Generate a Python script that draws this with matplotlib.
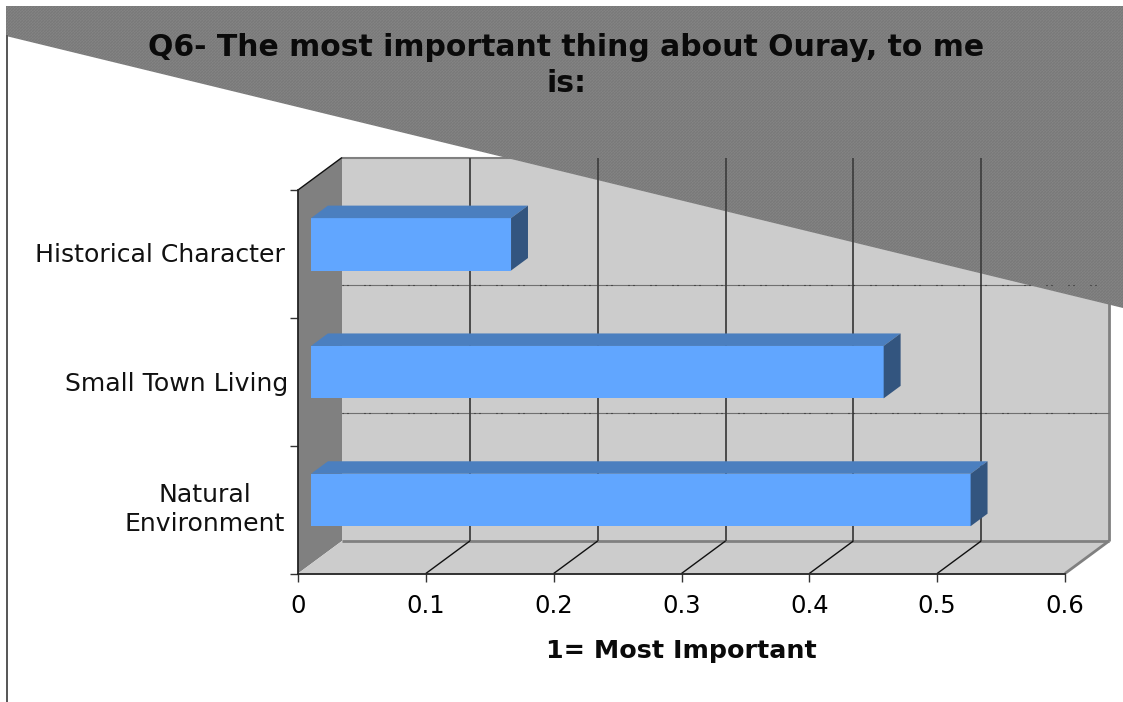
import numpy as np
import matplotlib
matplotlib.use("Agg")
import matplotlib.pyplot as plt
from matplotlib.patches import Polygon
from matplotlib.transforms import IdentityTransform, Affine2D

categories = ["Natural\nEnvironment", "Small Town Living", "Historical Character"]
values = [0.516, 0.448, 0.1565]
xticks = [0, 0.1, 0.2, 0.3, 0.4, 0.5, 0.6]
title = "Q6- The most important thing about Ouray, to me\nis:"
xlabel = "1= Most Important"

W, H = 1123, 702
plt.rcParams['font.family'] = ['DejaVu Sans']
fig = plt.figure(figsize=(W / 100, H / 100), dpi=100, facecolor='white')
ax = fig.add_axes([298 / W, 1 - 573.5 / H, 767 / W, 383.5 / H])
ax.set_xlim(0, 0.6)
ax.set_ylim(-0.5, 2.5)
ax.patch.set_visible(False)

ID = IdentityTransform()
DX, DY = 44.0, 32.5       # full depth of the box, in pixels


def P(x, y, d=0.0):
    px = ax.transData.transform((x, y))
    return (px[0] + d * DX, px[1] + d * DY)


def poly(pts, color, z, ec='none', lw=0):
    ax.add_patch(Polygon(pts, closed=True, facecolor=color, edgecolor=ec, linewidth=lw,
                         transform=ID, clip_on=False, zorder=z))


def seg(a, b, color, lw, z, **kw):
    ax.plot([a[0], b[0]], [a[1], b[1]], color=color, lw=lw, transform=ID, clip_on=False,
            zorder=z, solid_capstyle='butt', **kw)


y0, y1 = -0.5, 2.5
x1 = 0.6
# walls and floor
poly([P(0, y0, 1), P(x1, y0, 1), P(x1, y1, 1), P(0, y1, 1)], '#cccccc', 1)
poly([P(0, y0, 0), P(0, y0, 1), P(0, y1, 1), P(0, y1, 0)], '#808080', 1)
poly([P(0, y0, 0), P(x1, y0, 0), P(x1, y0, 1), P(0, y0, 1)], '#cccccc', 1)
seg(P(0, y0, 1), P(x1, y0, 1), '#808080', 2.0, 2)
seg(P(x1, y0, 1), P(x1, y1, 1), '#808080', 2.0, 2)
seg(P(0, y1, 1), P(x1, y1, 1), '#808080', 1.5, 2)
seg(P(x1, y0, 0), P(x1, y0, 1), '#808080', 2.0, 2)
for b in [0.5, 1.5]:
    seg(P(0, b, 1), P(x1, b, 1), '#707070', 0.8, 2)

# textured banner
yy, xx = np.mgrid[0:H, 0:W]
tex = np.where((xx + yy) % 3 == 0, 0.475, np.where((xx - yy) % 3 == 0, 0.515, 0.495))
banner = Polygon([(6, H - 6), (W, H - 6), (W, H - 308), (6, H - 36)], transform=ID,
                 facecolor='none', edgecolor='none')
ax.add_patch(banner)
banner.set_clip_on(False)
im = ax.imshow(tex, cmap='gray', vmin=0, vmax=1, extent=(0, W, 0, H), transform=ID, aspect='auto',
               interpolation='nearest', origin='upper', zorder=3)
im.set_clip_path(banner)
im.set_clip_box(fig.bbox)
ax.set_xlim(0, 0.6)
ax.set_ylim(-0.5, 2.5)

# gridlines
for t in xticks[1:-1]:
    seg(P(t, y0, 1), P(t, y1, 1), '#404040', 1.3, 4)
    seg(P(t, y0, 0), P(t, y0, 1), '#111111', 1.0, 4)
for b in [0.5, 1.5]:
    seg(P(0, b, 1), P(x1, b, 1), '#222222', 0.8, 4, linestyle=(0, (0.9, 3.6, 0.9, 14.4)))

# left page border
fig.add_artist(plt.Line2D([7 / W, 7 / W], [0, 1 - 36 / H], color='#555555', lw=1.4))

# bars
d0, d1 = 0.295, 0.68
h = 0.41
yc = np.arange(len(values))
for v, c in zip(values, yc):
    ax.barh(c, v, height=h, color='#61a6ff', zorder=5,
            transform=ax.transData + Affine2D().translate(d0 * DX, d0 * DY))
    poly([P(0, c + h / 2, d0), P(v, c + h / 2, d0), P(v, c + h / 2, d1), P(0, c + h / 2, d1)], '#4b7fbf', 5)
    poly([P(v, c - h / 2, d0), P(v, c + h / 2, d0), P(v, c + h / 2, d1), P(v, c - h / 2, d1)], '#33557f', 5)

# axes
for s in ['top', 'right']:
    ax.spines[s].set_visible(False)
for s in ['left', 'bottom']:
    ax.spines[s].set_linewidth(1.3)
    ax.spines[s].set_color('#222222')
    ax.spines[s].set_zorder(6)
seg(P(0, y1, 0), P(0, y1, 1), '#111111', 1.0, 6)
ax.set_xticks(xticks)
ax.set_xticklabels([f"{t:g}" for t in xticks], fontsize=17.5)
ax.set_yticks([-0.5, 0.5, 1.5, 2.5])
ax.set_yticklabels([])
ax.tick_params(axis='x', length=6, width=1.0, color='#333333', pad=9)
ax.tick_params(axis='y', length=6, width=1.0, color='#333333')
for c, lab, rx, ry in zip(yc, categories, [-13, -10, -13], [0, -2, -1]):
    ax.annotate(lab, xy=(0, c), xycoords='data', xytext=(rx, ry), textcoords='offset pixels',
                ha='right', va='center', multialignment='center', fontsize=18.1, color='#111111',
                linespacing=1.3, annotation_clip=False)
fig.text(681.5 / W, 1 - 651 / H, xlabel, ha='center', va='center', fontsize=18.3, fontweight='bold',
         color='#0a0a0a')
fig.text(566.5 / W, 1 - 65.5 / H, title, ha='center', va='center', fontsize=21.5, fontweight='bold',
         color='#0a0a0a', linespacing=1.33, zorder=10)

fig.savefig('out.png', dpi=100)
